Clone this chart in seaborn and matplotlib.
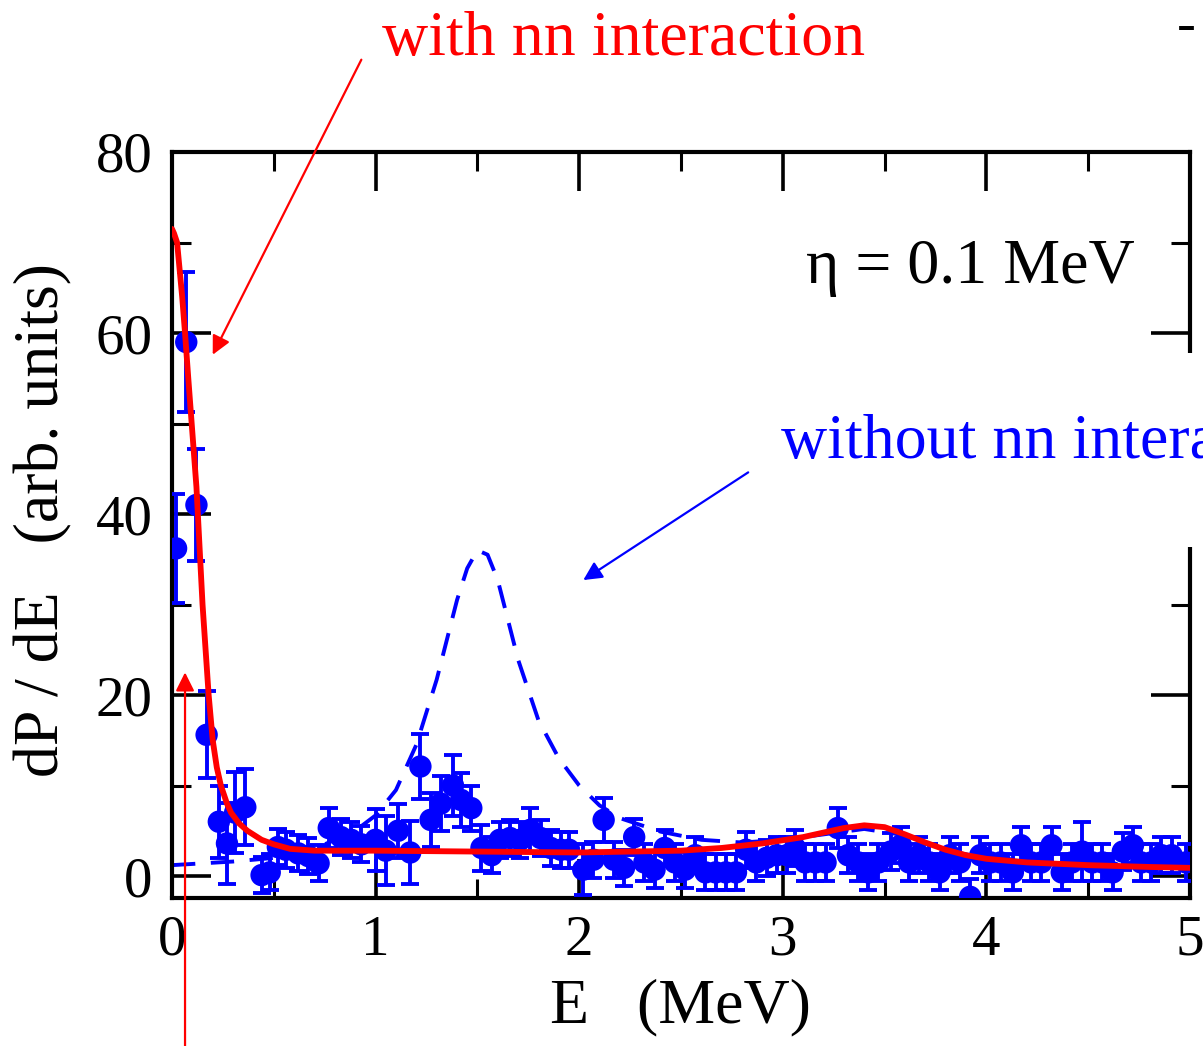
import matplotlib
matplotlib.use("Agg")
import matplotlib.pyplot as plt
import seaborn as sns
import numpy as np
import pandas as pd
from matplotlib.ticker import MultipleLocator

# ---------------- data ----------------
data_E = [0.02, 0.07, 0.12, 0.17, 0.23, 0.27, 0.31, 0.36, 0.44, 0.48, 0.52, 0.56, 0.62, 0.67,
          0.72, 0.77, 0.83, 0.88, 0.93, 1.00, 1.05, 1.11, 1.17, 1.22, 1.27, 1.32, 1.38, 1.42,
          1.47, 1.52, 1.57, 1.61, 1.66, 1.71, 1.76, 1.81, 1.86, 1.91, 1.95, 2.02, 2.07, 2.12,
          2.17, 2.22, 2.27, 2.32, 2.37, 2.42, 2.47, 2.52, 2.57, 2.62, 2.67, 2.72, 2.77, 2.82,
          2.87, 2.92, 2.97, 3.02, 3.06, 3.11, 3.16, 3.21, 3.27, 3.32, 3.37, 3.42, 3.47, 3.53,
          3.58, 3.62, 3.67, 3.72, 3.77, 3.82, 3.87, 3.92, 3.97, 4.02, 4.07, 4.13, 4.17, 4.22,
          4.27, 4.32, 4.37, 4.42, 4.47, 4.52, 4.57, 4.62, 4.67, 4.72, 4.76, 4.81, 4.86, 4.91, 4.98]
data_P = [36.2, 59.0, 41.0, 15.6, 6.0, 3.6, 7.0, 7.6, 0.1, 0.4, 3.2, 2.9, 2.5, 2.2,
          1.4, 5.3, 4.3, 4.0, 3.5, 4.0, 2.8, 5.0, 2.6, 12.1, 6.2, 8.0, 10.0, 8.4,
          7.5, 3.1, 2.3, 4.0, 4.2, 4.0, 5.1, 4.2, 3.1, 2.9, 2.9, 0.7, 1.8, 6.2,
          1.8, 0.9, 4.3, 1.5, 0.7, 3.1, 1.5, 0.7, 2.3, 0.4, 0.4, 0.4, 0.4, 2.9,
          1.5, 2.0, 2.3, 2.3, 3.1, 1.5, 1.5, 1.5, 5.3, 2.3, 1.5, 0.4, 1.5, 2.7,
          3.4, 1.5, 2.3, 1.5, 0.4, 2.3, 1.5, -2.3, 2.3, 1.5, 1.5, 0.4, 3.4, 1.5,
          1.5, 3.4, 0.4, 1.5, 2.7, 1.5, 1.5, 0.4, 2.7, 3.4, 1.5, 1.5, 2.3, 2.3, 1.5]
data_err = [6.0, 7.7, 6.2, 4.8, 4.0, 4.5, 4.5, 4.2, 2.0, 2.0, 2.0, 2.0, 2.0, 2.0,
            2.0, 2.2, 2.0, 2.0, 2.0, 3.4, 3.8, 3.0, 3.5, 3.6, 3.0, 3.0, 3.4, 3.0,
            2.5, 2.5, 2.0, 2.0, 2.0, 2.0, 2.4, 2.0, 2.0, 2.0, 2.0, 2.8, 2.0, 2.4,
            2.0, 2.0, 2.0, 2.0, 2.0, 2.0, 2.0, 2.0, 2.0, 2.0, 2.0, 2.0, 2.0, 2.0,
            2.0, 2.0, 2.0, 2.0, 2.0, 2.0, 2.0, 2.0, 2.2, 2.0, 2.0, 2.0, 2.0, 2.0,
            2.0, 2.0, 2.0, 2.0, 2.0, 2.0, 2.0, 2.0, 2.0, 2.0, 2.0, 2.0, 2.0, 2.0,
            2.0, 2.0, 2.0, 2.0, 3.3, 2.0, 2.0, 2.0, 2.0, 2.0, 2.0, 2.0, 2.0, 2.0, 2.0]

with_E = [0.0, 0.01, 0.025, 0.05, 0.064, 0.08, 0.10, 0.12, 0.15, 0.18, 0.20, 0.22, 0.24, 0.27,
          0.29, 0.33, 0.37, 0.44, 0.50, 0.58, 0.70, 1.0, 1.5, 2.0, 2.5, 2.7, 2.9, 3.1, 3.2,
          3.3, 3.4, 3.5, 3.6, 3.7, 3.8, 3.9, 4.0, 4.2, 4.5, 4.8, 5.0]
with_P = [71.5, 71.0, 70.0, 64.0, 60.0, 55.0, 49.0, 43.0, 30.0, 20.0, 15.0, 12.0, 10.0, 8.0,
          7.0, 5.8, 5.0, 4.0, 3.5, 3.0, 2.8, 2.8, 2.7, 2.6, 2.8, 3.1, 3.6, 4.3, 4.8,
          5.3, 5.6, 5.4, 4.6, 3.7, 2.9, 2.3, 1.9, 1.5, 1.2, 1.0, 0.9]

without_E = [0.0, 0.3, 0.5, 0.7, 0.9, 1.0, 1.1, 1.2, 1.3, 1.4, 1.45, 1.5, 1.55, 1.6, 1.7,
             1.8, 1.9, 2.0, 2.1, 2.2, 2.4, 2.6, 2.8, 3.0, 3.2, 3.4, 3.6, 3.8, 4.0, 4.5, 5.0]
without_P = [1.2, 1.6, 2.0, 3.0, 5.0, 6.7, 9.5, 14.5, 21.7, 30.5, 34.0, 36.0, 35.5, 32.7, 23.9,
             17.2, 13.0, 10.0, 7.8, 6.4, 4.9, 4.0, 3.7, 4.0, 4.6, 5.2, 4.5, 2.9, 1.9, 1.2, 0.9]

x_ticks = [0, 1, 2, 3, 4, 5]
y_ticks = [0, 20, 40, 60, 80]

# ---------------- style ----------------
sns.set_style("ticks")
plt.rcParams['font.family'] = ['Liberation Serif', 'DejaVu Serif']
plt.rcParams['text.color'] = 'black'
plt.rcParams['axes.labelcolor'] = 'black'
plt.rcParams['xtick.color'] = 'black'
plt.rcParams['ytick.color'] = 'black'

BLUE = (0, 0, 1)
RED = (1, 0, 0)
FS_TICK = 41
FS = 46

fig = plt.figure(figsize=(12.03, 10.46), dpi=100)
ax = fig.add_axes([172/1203, 1-898/1046, (1190-172)/1203, (898-152)/1046])

df_pts = pd.DataFrame({"E": data_E, "P": data_P, "err": data_err})
df_with = pd.DataFrame({"E": with_E, "P": with_P})
df_wo = pd.DataFrame({"E": without_E, "P": without_P})

# dashed "without" curve
sns.lineplot(data=df_wo, x="E", y="P", ax=ax, color=BLUE, lw=2.8,
             zorder=2, sort=True)
ax.lines[-1].set_dashes([6, 4])

# error bars + points
ax.errorbar(df_pts["E"], df_pts["P"], yerr=df_pts["err"], fmt="none",
            ecolor=BLUE, elinewidth=2.8, capsize=6.5, capthick=2.8, zorder=3)
sns.scatterplot(data=df_pts, x="E", y="P", ax=ax, color=BLUE, s=260,
                edgecolor="none", zorder=4)

# red "with" curve
sns.lineplot(data=df_with, x="E", y="P", ax=ax, color=RED, lw=4.2, zorder=5, sort=True)

ax.set_xlim(0, 5)
ax.set_ylim(-2.43, 80)
ax.set_xticks(x_ticks)
ax.set_yticks(y_ticks)
ax.set_xticklabels([str(t) for t in x_ticks])
ax.set_yticklabels([str(t) for t in y_ticks])
ax.xaxis.set_minor_locator(MultipleLocator(0.5))
ax.yaxis.set_minor_locator(MultipleLocator(10))
ax.tick_params(which="major", direction="in", length=28, width=2.6,
               top=True, right=True, labelsize=FS_TICK, pad=14, colors="black")
ax.tick_params(which="minor", direction="in", length=14, width=2.2,
               top=True, right=True, colors="black")
ax.tick_params(axis="x", which="major", pad=12)
for sp in ax.spines.values():
    sp.set_linewidth(3.0)
    sp.set_color("black")
    sp.set_visible(True)

ax.set_xlabel("E   (MeV)", fontsize=FS, color="black")
ax.set_ylabel("dP / dE   (arb. units)", fontsize=FS, color="black")
ax.xaxis.set_label_coords(0.499, -0.108)
ax.yaxis.set_label_coords(-0.098, 0.507)

# annotations
ax.text(2.22, 92.4, "with nn interaction", color=RED, fontsize=FS,
        ha="center", va="center", clip_on=False)
ax.text(4.98, 93.8, "-", color="black", fontsize=FS_TICK, ha="center", va="center",
        clip_on=False)
ax.text(3.92, 67.2, "η = 0.1 MeV", color="black", fontsize=FS,
        ha="center", va="center", zorder=6)
ax.text(2.99, 47.8, "without nn interaction", color=BLUE, fontsize=FS,
        ha="left", va="center", clip_on=False, zorder=10,
        bbox=dict(boxstyle="square,pad=0.15", fc="white", ec="none"))
# white patch hiding part of the right frame behind the label
ax.text(5.0, 47.1, " ", fontsize=40, ha="center", va="center", clip_on=False,
        zorder=9, bbox=dict(boxstyle="square,pad=1.28", fc="white", ec="none"))

arrow_red = dict(arrowstyle="-|>", color=RED, lw=1.6, mutation_scale=28,
                 shrinkA=0, shrinkB=0)
ax.annotate("", xy=(0.20, 57.6), xytext=(0.93, 90.2), arrowprops=arrow_red,
            annotation_clip=False, zorder=8)
ax.annotate("", xy=(0.064, 22.5), xytext=(0.064, -20), arrowprops=arrow_red,
            annotation_clip=False, zorder=8)
ax.annotate("", xy=(2.02, 32.7), xytext=(2.83, 44.6),
            arrowprops=dict(arrowstyle="-|>", color=BLUE, lw=1.6, mutation_scale=28,
                            shrinkA=0, shrinkB=0),
            annotation_clip=False, zorder=8)

fig.savefig("out.png", dpi=100)
